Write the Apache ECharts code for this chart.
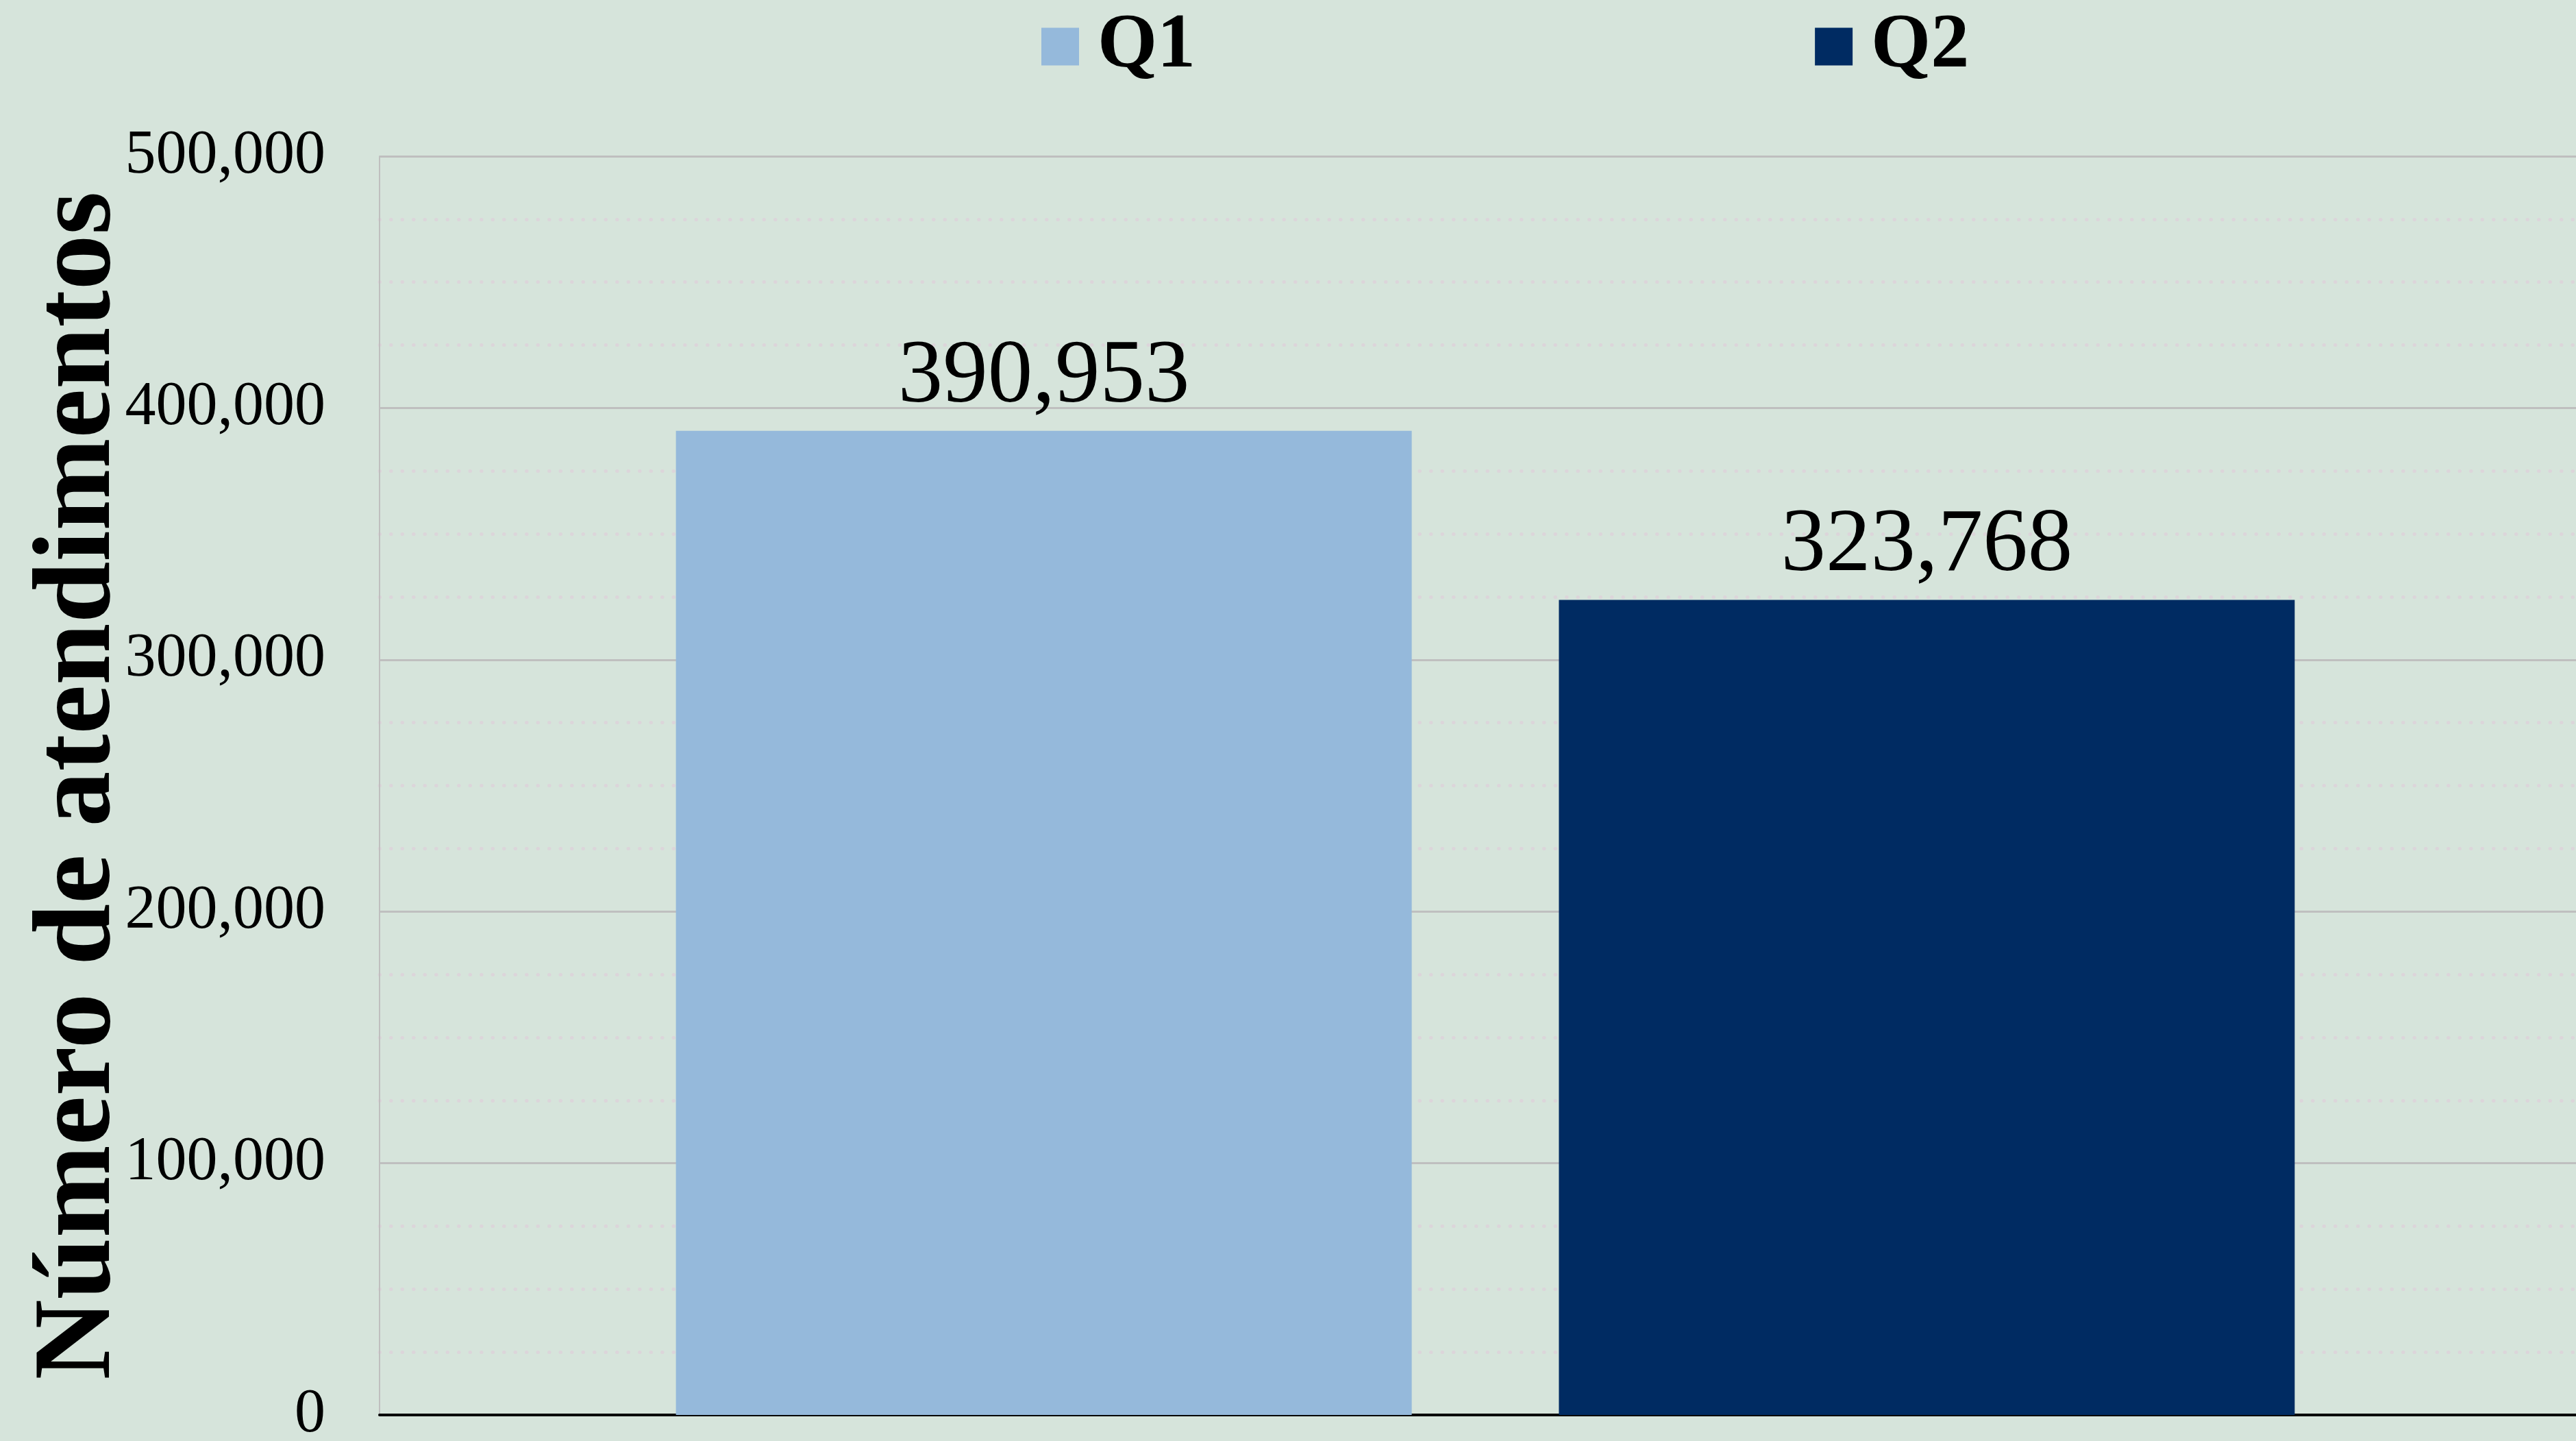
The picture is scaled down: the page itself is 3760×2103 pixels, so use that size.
<!DOCTYPE html>
<html>
<head>
<meta charset="utf-8">
<script src="https://cdn.jsdelivr.net/npm/echarts@6/dist/echarts.min.js"></script>
<style>
  html, body { margin: 0; padding: 0; background: #d6e4db; }
  #chart { width: 3760px; height: 2103px; }
</style>
</head>
<body>
<div id="chart"></div>
<script>
// data
const categories = ['Atendimentos']
const seriesNames = ['Q1', 'Q2']
const q1Values = [390953]
const q2Values = [323768]
const seriesColors = ['#95b9db', '#002b62']

const fmt = v => Number(v).toLocaleString('en-US')
const serif = '"Liberation Serif", "Times New Roman", serif'

const chart = echarts.init(document.getElementById('chart'))

const labelStyle = {
  show: true,
  position: 'top',
  distance: 12,
  fontFamily: serif,
  fontSize: 131,
  color: '#000',
  formatter: p => fmt(p.value)
}

const option = {
  backgroundColor: '#d6e4db',
  animation: false,
  legend: {
    data: seriesNames,
    top: 12,
    left: 1520,
    padding: 0,
    icon: 'rect',
    itemWidth: 55,
    itemHeight: 55,
    itemGap: 904,
    textStyle: { fontFamily: serif, fontSize: 112, fontWeight: 'bold', color: '#000', padding: [0, 0, 0, 22] }
  },
  grid: { left: 554, right: -22, top: 228, bottom: 38, outerBoundsMode: 'none' },
  xAxis: {
    type: 'category',
    data: categories,
    axisLabel: { show: false },
    axisTick: { show: false },
    axisLine: { show: true, lineStyle: { color: '#000', width: 4 } },
    splitLine: { show: false }
  },
  yAxis: {
    type: 'value',
    min: 0,
    max: 500000,
    interval: 100000,
    name: 'Número de atendimentos',
    nameLocation: 'middle',
    nameGap: 356,
    nameMoveOverlap: false,
    nameTextStyle: { fontFamily: serif, fontSize: 162, fontWeight: 'bold', color: '#000' },
    axisLine: { show: true, lineStyle: { color: '#bfbfbf', width: 2 } },
    axisTick: { show: false },
    axisLabel: { fontFamily: serif, fontSize: 90, color: '#000', margin: 79, formatter: v => fmt(v) },
    splitLine: { show: true, lineStyle: { color: '#bfbfbf', width: 3 } },
    minorTick: { show: false, splitNumber: 4 },
    minorSplitLine: { show: true, lineStyle: { color: '#dcd5da', width: 5, type: [0.5, 16], cap: 'round' } }
  },
  series: [
    {
      name: seriesNames[0],
      type: 'bar',
      data: q1Values,
      barWidth: 1074,
      barGap: '20%',
      itemStyle: { color: seriesColors[0] },
      label: labelStyle
    },
    {
      name: seriesNames[1],
      type: 'bar',
      data: q2Values,
      barWidth: 1074,
      barGap: '20%',
      itemStyle: { color: seriesColors[1] },
      label: labelStyle
    }
  ]
}

chart.setOption(option)
window.addEventListener('resize', () => chart.resize())
</script>
</body>
</html>
